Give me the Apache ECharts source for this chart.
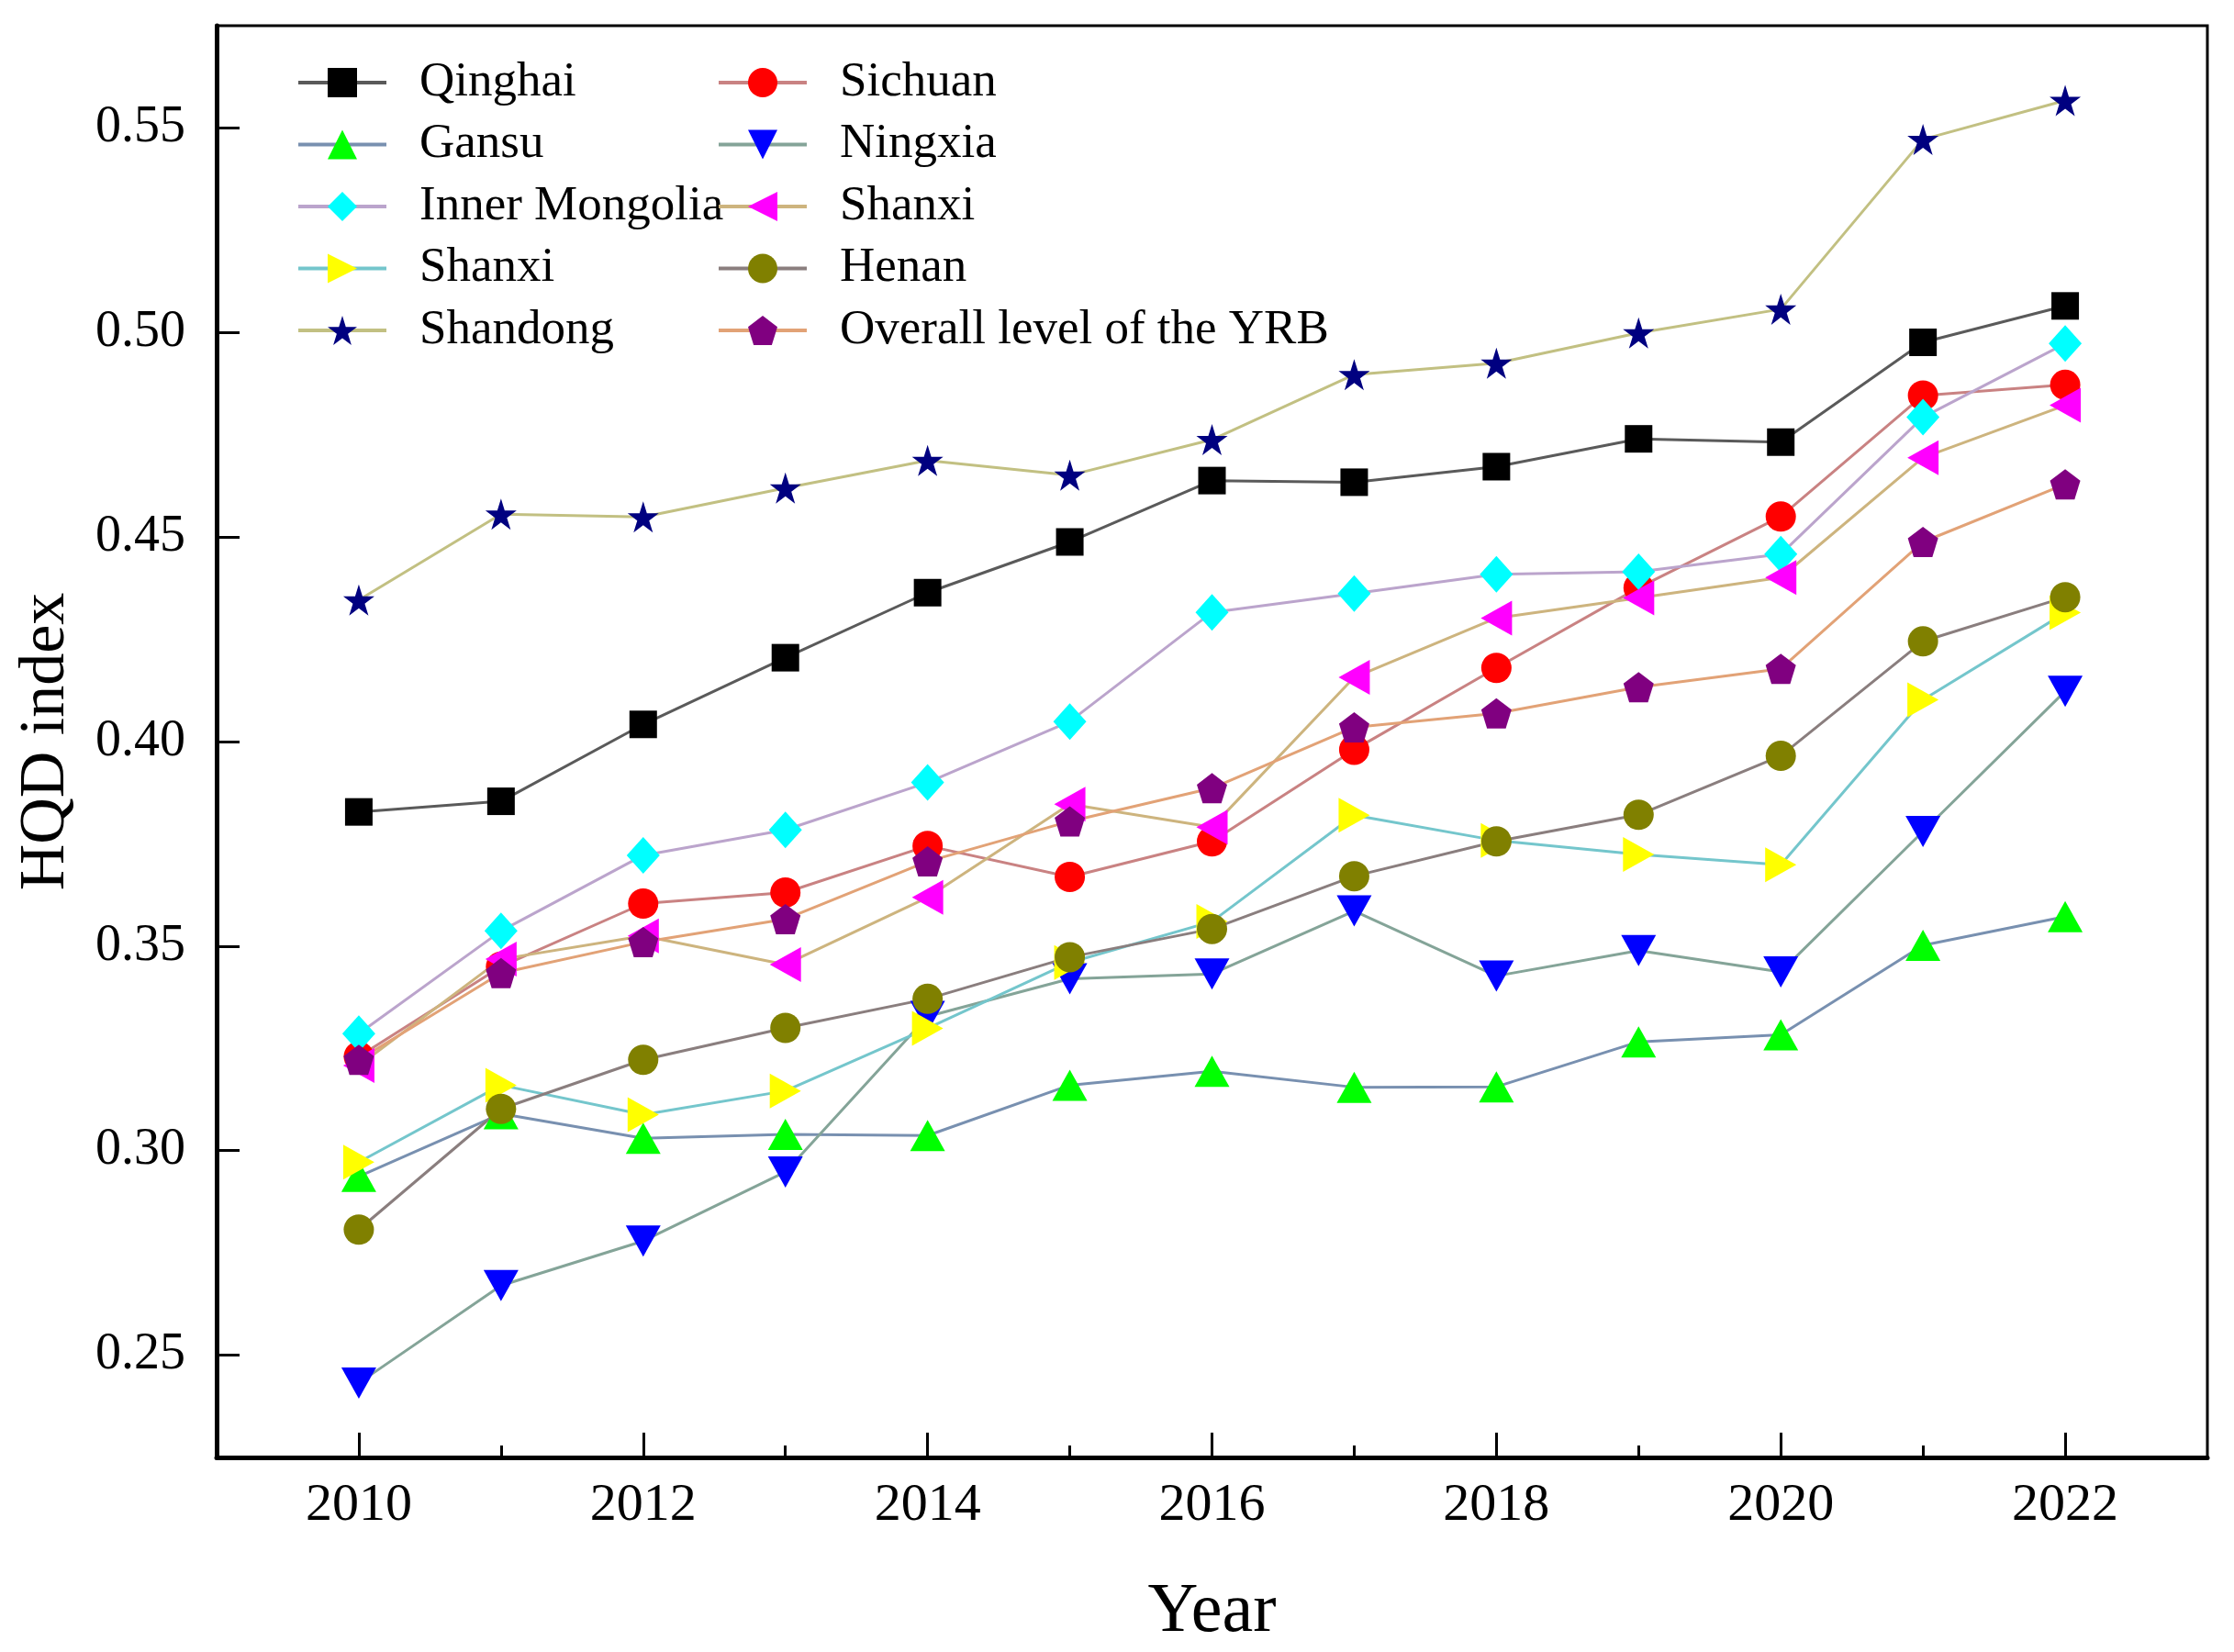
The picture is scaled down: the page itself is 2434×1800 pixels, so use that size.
<!DOCTYPE html>
<html>
<head>
<meta charset="utf-8">
<script src="https://cdn.jsdelivr.net/npm/echarts@6/dist/echarts.min.js"></script>
<style>
html,body{margin:0;padding:0;background:#fff;}
#chart{width:2434px;height:1800px;}
</style>
</head>
<body>
<div id="chart"></div>
<script>
// ---- data ----
const years = [2010, 2011, 2012, 2013, 2014, 2015, 2016, 2017, 2018, 2019, 2020, 2021, 2022];
const xTickLabels = [2010, 2012, 2014, 2016, 2018, 2020, 2022];
const xMinorTicks = [2011, 2013, 2015, 2017, 2019, 2021];
const yTickLabels = [0.25, 0.30, 0.35, 0.40, 0.45, 0.50, 0.55];

const qinghai       = [0.3828, 0.3854, 0.4042, 0.4205, 0.4364, 0.4488, 0.4638, 0.4634, 0.4672, 0.4740, 0.4732, 0.4976, 0.5065];
const sichuan       = [0.3230, 0.3450, 0.3604, 0.3631, 0.3745, 0.3669, 0.3756, 0.3980, 0.4180, 0.4376, 0.4550, 0.4846, 0.4872];
const gansu         = [0.2937, 0.3090, 0.3030, 0.3040, 0.3037, 0.3160, 0.3194, 0.3155, 0.3156, 0.3266, 0.3283, 0.3502, 0.3572];
const ningxia       = [0.2432, 0.2670, 0.2779, 0.2948, 0.3328, 0.3420, 0.3432, 0.3586, 0.3427, 0.3489, 0.3437, 0.3780, 0.4123];
const innerMongolia = [0.3286, 0.3537, 0.3722, 0.3784, 0.3900, 0.4049, 0.4316, 0.4362, 0.4409, 0.4415, 0.4458, 0.4793, 0.4973];
const shanxiA       = [0.3208, 0.3468, 0.3525, 0.3455, 0.3619, 0.3847, 0.3791, 0.4157, 0.4302, 0.4351, 0.4401, 0.4694, 0.4822];
const shanxiB       = [0.2972, 0.3160, 0.3088, 0.3146, 0.3299, 0.3460, 0.3560, 0.3820, 0.3758, 0.3724, 0.3699, 0.4102, 0.4315];
const henan         = [0.2807, 0.3102, 0.3222, 0.3300, 0.3371, 0.3473, 0.3542, 0.3671, 0.3756, 0.3821, 0.3965, 0.4245, 0.4353];
const shandong      = [0.4346, 0.4556, 0.4549, 0.4620, 0.4687, 0.4651, 0.4738, 0.4897, 0.4925, 0.4999, 0.5057, 0.5472, 0.5567];
const overallYRB    = [0.3222, 0.3434, 0.3510, 0.3566, 0.3707, 0.3805, 0.3886, 0.4035, 0.4069, 0.4133, 0.4178, 0.4488, 0.4629];

const legendCol1 = ['Qinghai', 'Gansu', 'Inner Mongolia', 'Shanxi ', 'Shandong'];
const legendCol2 = ['Sichuan', 'Ningxia', 'Shanxi', 'Henan', 'Overall level of the YRB'];

// ---- styles ----
const FONT = 'Liberation Serif';
const STAR = 'path://M0,-1 L0.2245,-0.309 L0.951,-0.309 L0.363,0.118 L0.588,0.809 L0,0.382 L-0.588,0.809 L-0.363,0.118 L-0.951,-0.309 L-0.2245,-0.309 Z';
const PENT = 'path://M0,-1 L0.951,-0.309 L0.588,0.809 L-0.588,0.809 L-0.951,-0.309 Z';

function mk(name, values, symbol, size, rotate, markerColor, lineColor) {
  return {
    name: name,
    type: 'line',
    data: years.map((y, i) => [y, values[i]]),
    symbol: symbol,
    symbolSize: size,
    symbolRotate: rotate,
    showAllSymbol: true,
    lineStyle: { color: lineColor, width: 3 },
    itemStyle: { color: markerColor, borderWidth: 0 },
    emphasis: { disabled: true },
    animation: false
  };
}

const series = [
  mk('Qinghai', qinghai, 'rect', 30, 0, '#000000', '#5a5a5a'),
  mk('Sichuan', sichuan, 'circle', 33, 0, '#ff0000', '#c98282'),
  mk('Gansu', gansu, 'triangle', [38, 34], 0, '#00ff00', '#7890b0'),
  mk('Ningxia', ningxia, 'triangle', [38, 34], 180, '#0000ff', '#84a498'),
  mk('Inner Mongolia', innerMongolia, 'diamond', [36, 40], 0, '#00ffff', '#bba4cc'),
  mk('Shanxi', shanxiA, 'triangle', [38, 34], 90, '#ff00ff', '#cdb47e'),
  mk('Shanxi ', shanxiB, 'triangle', [38, 34], -90, '#ffff00', '#74c6cc'),
  mk('Henan', henan, 'circle', 33, 0, '#808000', '#8a7e7e'),
  mk('Shandong', shandong, STAR, 34, 0, '#000080', '#c2c082'),
  mk('Overall level of the YRB', overallYRB, PENT, 33, 0, '#800080', '#e2a276')
];

function legend(data, left) {
  return {
    data: data,
    orient: 'vertical',
    left: left,
    top: 58,
    itemWidth: 96,
    itemHeight: 40,
    itemGap: 13.5,
    selectedMode: false,
    lineStyle: { width: 4 },
    textStyle: {
      fontFamily: FONT, fontSize: 53, color: '#000', lineHeight: 54,
      padding: [0, 0, 0, 31]
    }
  };
}

const chart = echarts.init(document.getElementById('chart'), null, { renderer: 'canvas' });
chart.setOption({
  backgroundColor: '#ffffff',
  animation: false,
  legend: [legend(legendCol1, 318), legend(legendCol2, 776)],
  grid: {
    left: 236, top: 28, width: 2169, height: 1562,
    show: true, borderColor: '#000', borderWidth: 3, backgroundColor: 'transparent'
  },
  xAxis: [
    {
      type: 'value', min: 2009, max: 2023,
      name: 'Year', nameLocation: 'middle', nameGap: 131,
      nameTextStyle: { fontFamily: FONT, fontSize: 76, color: '#000' },
      axisLine: { show: true, lineStyle: { color: '#000', width: 5 } },
      axisTick: { show: true, inside: true, length: 27, customValues: xTickLabels, lineStyle: { color: '#000', width: 3 } },
      axisLabel: { show: true, customValues: xTickLabels, margin: 24, fontFamily: FONT, fontSize: 58, color: '#000', formatter: v => String(v) },
      splitLine: { show: false }
    },
    {
      type: 'value', min: 2009, max: 2023, position: 'bottom',
      axisLine: { show: false },
      axisTick: { show: true, inside: true, length: 13, customValues: xMinorTicks, lineStyle: { color: '#000', width: 3 } },
      axisLabel: { show: false },
      splitLine: { show: false }
    }
  ],
  yAxis: {
    type: 'value', min: 0.225, max: 0.575,
    name: 'HQD index', nameLocation: 'middle', nameGap: 150,
    nameTextStyle: { fontFamily: FONT, fontSize: 70, color: '#000' },
    axisLine: { show: true, lineStyle: { color: '#000', width: 5 } },
    axisTick: { show: true, inside: true, length: 25, customValues: yTickLabels, lineStyle: { color: '#000', width: 3 } },
    axisLabel: { show: true, customValues: yTickLabels, margin: 34, fontFamily: FONT, fontSize: 56, color: '#000', formatter: v => v.toFixed(2) },
    splitLine: { show: false }
  },
  series: series
});
</script>
</body>
</html>
